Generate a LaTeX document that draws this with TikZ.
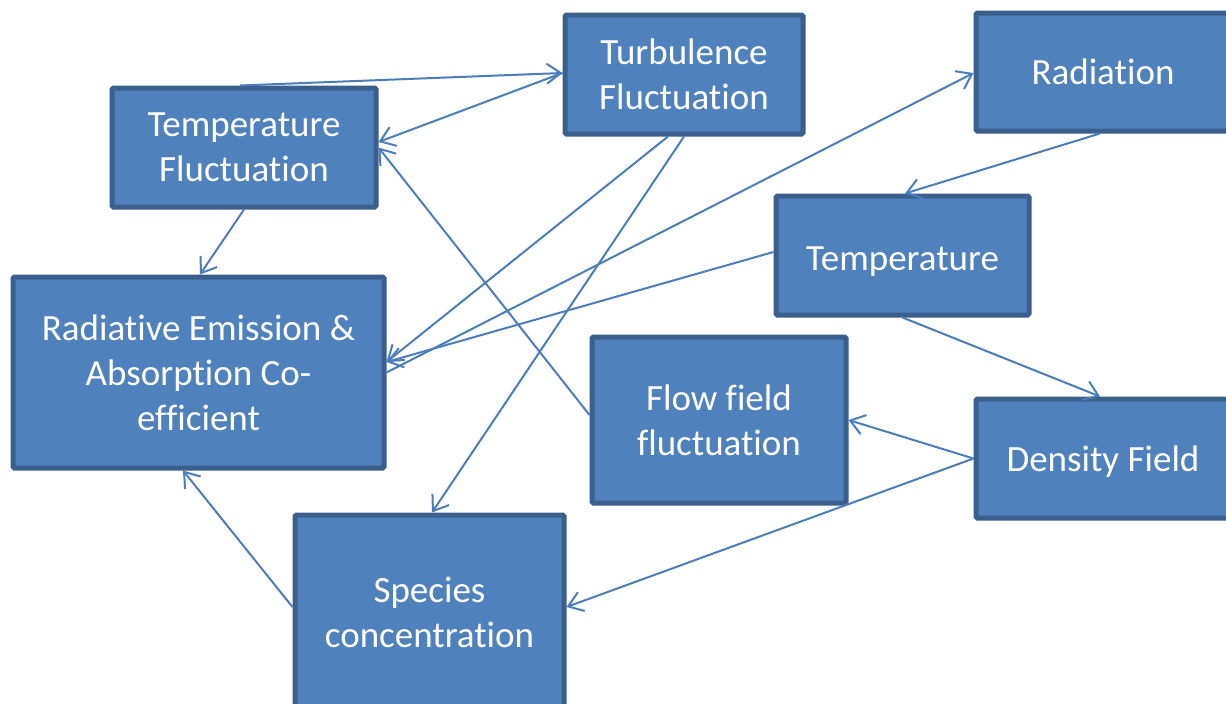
\documentclass[tikz,border=0pt]{standalone}
\usepackage{fontspec}
\setmainfont{Carlito}[Ligatures={NoCommon,NoContextual,NoRare}, RawFeature={-liga;-clig;-calt;-dlig}]
\usetikzlibrary{arrows.meta}
\definecolor{boxfill}{HTML}{4F81BD}
\definecolor{boxline}{HTML}{3A5F8C}
\definecolor{arrowcol}{HTML}{4A7EBB}
\tikzset{
  box/.style={draw=boxline, fill=boxfill, line width=5pt, rounded corners=1.5pt,
    inner sep=0pt, align=center, text=white,
    font=\fontsize{37}{45}\selectfont},
  link/.style={draw=arrowcol, line width=2pt,
    -{Straight Barb[length=14pt,width=20pt,line width=2pt]}}
}
\begin{document}
\begin{tikzpicture}[x=1pt,y=-1pt]
\useasboundingbox (0,0) rectangle (1226,704);
\clip (0,0) rectangle (1226,704);
\fill[white] (0,0) rectangle (1226,704);
\node[box, minimum width=264pt, minimum height=119pt] (tf) at (244,147.5) {Temperature\\Fluctuation};
\node[box, minimum width=238pt, minimum height=119pt] (tu) at (684,74.5) {Turbulence\\Fluctuation};
\node[box, minimum width=259pt, minimum height=118pt] (ra) at (1105.5,72) {\hspace*{-5pt}Radiation};
\node[box, minimum width=253pt, minimum height=119pt, align=none, text height=29pt, text depth=0pt] (te) at (902.5,255.5) {Temperature};
\node[box, minimum width=371pt, minimum height=191pt] (re) at (198.5,372.5) {Radiative Emission \&\\Absorption Co-\\efficient};
\node[box, minimum width=254pt, minimum height=166pt] (ff) at (719,420) {Flow field\\fluctuation};
\node[box, minimum width=259pt, minimum height=119pt, align=none, text height=25pt, text depth=0pt] (df) at (1105.5,458.5) {\hspace*{-5pt}Density Field};
\node[box, minimum width=269pt, minimum height=195pt] (sc) at (429.5,612.5) {Species\\concentration};
\coordinate (tuin) at ([yshift=1.5pt]tu.west);
\draw[link] ([xshift=-4pt]tf.north) -- (tuin);
\draw[link] (tuin) -- ([yshift=5.5pt]tf.east);
\draw[link] ([xshift=-16pt]tu.south) -- ([yshift=10.5pt]re.east);
\draw[link] (tu.south) -- ([xshift=2.5pt]sc.north);
\draw[link] (re.east) -- ([yshift=-1pt]ra.west);
\draw[link] ([yshift=3.5pt]te.west) -- ([yshift=10.5pt]re.east);
\draw[link] ([xshift=-5.5pt]ra.south) -- ([xshift=2.5pt]te.north);
\draw[link] (te.south) -- ([xshift=-5.5pt]df.north);
\draw[link] (df.west) -- (ff.east);
\draw[link] (df.west) -- ([yshift=5.5pt]sc.east);
\draw[link] ([yshift=5pt]ff.west) -- (tf.east);
\draw[link] (tf.south) -- ([xshift=1.5pt]re.north);
\draw[link] ([yshift=5.5pt]sc.west) -- ([xshift=-15.5pt]re.south);
\end{tikzpicture}
\end{document}
